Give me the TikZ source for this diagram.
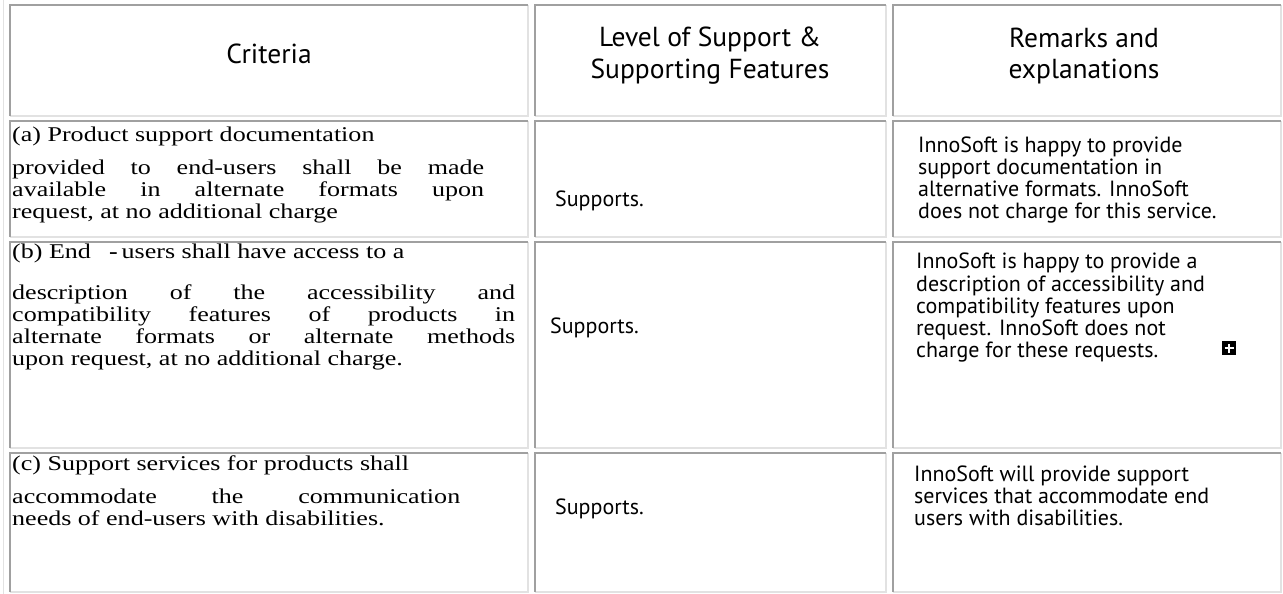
\documentclass[tikz,border=0pt]{standalone}
\usepackage{fontspec}
\setmainfont{Liberation Serif}[FakeStretch=1.24]
\newfontfamily\sansf{PT Sans}
\definecolor{dk}{HTML}{A0A0A0}
\definecolor{lt}{HTML}{E2E2E2}
\tikzset{
  dkline/.style={draw=dk, line width=2pt},
  ltline/.style={draw=lt, line width=2pt},
  txt/.style={inner sep=0pt, anchor=base west},
  ser/.style={txt, font=\fontsize{21}{22}\selectfont},
  san/.style={txt, font=\sansf\fontsize{22}{22}\selectfont},
  hdr/.style={inner sep=0pt, anchor=base, font=\sansf\fontsize{27.5}{28}\selectfont},
}
\newcommand{\cellbox}[4]{%
  \draw[ltline] (#3,#2) -- (#3,#4) -- (#1,#4);
  \draw[dkline] (#1,#4) -- (#1,#2) -- (#3,#2);
}
\begin{document}
\begin{tikzpicture}[x=1pt,y=-1pt]
\useasboundingbox (0,0) rectangle (1283,594);
\fill[white] (0,0) rectangle (1283,594);
% outer table border (left)
\draw[draw=lt, line width=1.5pt] (3.5,0) -- (3.5,594);
% cells
\foreach \ya/\yb in {5/116, 121/237, 242/448, 453/592} {
  \cellbox{10}{\ya}{528}{\yb}
  \cellbox{535}{\ya}{886}{\yb}
  \cellbox{893}{\ya}{1281}{\yb}
}
% header
\node[hdr] (h1) at (269,64) {Criteria};
\node[hdr] (h2a) at (710,47) {Level of Support \&};
\node[hdr] (h2b) at (710,78) {Supporting Features};
\node[hdr] (h3a) at (1084,48) {Remarks and};
\node[hdr] (h3b) at (1084,79) {explanations};
% row a
\node[ser] (a1) at (12,141) {(a) Product support documentation};
\node[ser] (a2) at (12,174) {\makebox[472pt][s]{provided to end-users shall be made}};
\node[ser] (a3) at (12,196) {\makebox[472pt][s]{available in alternate formats upon}};
\node[ser] (a4) at (12,218) {request, at no additional charge};
\node[san] (sa) at (555,206) {Supports.};
\node[san] (ra1) at (918,152) {InnoSoft is happy to provide};
\node[san] (ra2) at (918,174) {support documentation in};
\node[san] (ra3) at (918,196) {alternative formats. InnoSoft};
\node[san] (ra4) at (918,218) {does not charge for this service.};
% row b
\node[ser] (b1) at (12,258) {(b) End\hspace{18pt}\textbf{-}\hspace{4pt}users shall have access to a};
\node[ser] (b2) at (12,299) {\makebox[503pt][s]{description of the accessibility and}};
\node[ser] (b3) at (12,321) {\makebox[503pt][s]{compatibility features of products in}};
\node[ser] (b4) at (12,343) {\makebox[503pt][s]{alternate formats or alternate methods}};
\node[ser] (b5) at (12,365) {upon request, at no additional charge.};
\node[san] (sb) at (550,333) {Supports.};
\node[san] (rb1) at (916,268) {InnoSoft is happy to provide a};
\node[san] (rb2) at (916,291) {description of accessibility and};
\node[san] (rb3) at (916,313) {compatibility features upon};
\node[san] (rb4) at (916,335) {request. InnoSoft does not};
\node[san] (rb5) at (916,357) {charge for these requests.};
\node[fill=black, minimum size=14pt, inner sep=0pt] (plus) at (1229,348) {};
\draw[white, line width=1.6pt] ([xshift=-4.5pt]plus.center) -- ([xshift=4.5pt]plus.center);
\draw[white, line width=1.6pt] ([yshift=-4.5pt]plus.center) -- ([yshift=4.5pt]plus.center);
% row c
\node[ser] (c1) at (12,470) {(c) Support services for products shall};
\node[ser] (c2) at (12,503) {\makebox[448pt][s]{accommodate the communication}};
\node[ser] (c3) at (12,525) {needs of end-users with disabilities.};
\node[san] (sc) at (555,514) {Supports.};
\node[san] (rc1) at (914,481) {InnoSoft will provide support};
\node[san] (rc2) at (914,503) {services that accommodate end};
\node[san] (rc3) at (914,525) {users with disabilities.};
\end{tikzpicture}
\end{document}
